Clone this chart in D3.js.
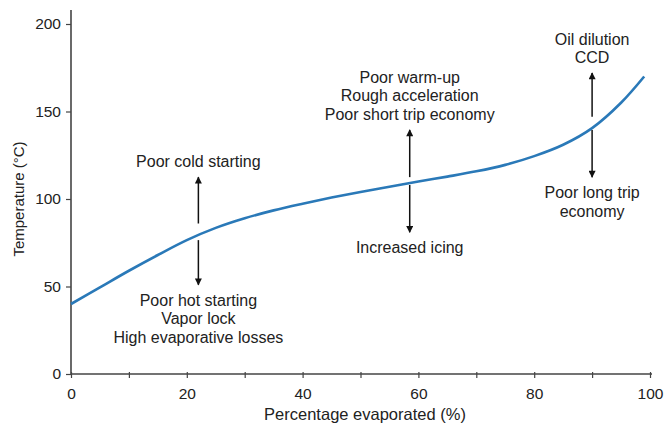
<!DOCTYPE html>
<html>
<head>
<meta charset="utf-8">
<script src="https://cdn.jsdelivr.net/npm/d3@7"></script>
<style>
  body { margin: 0; background: #fff; }
  svg text { font-family: "Liberation Sans", Arial, sans-serif; fill: #222; }
</style>
</head>
<body>
<div class="chart"></div>
<script>
// distillation curve: % evaporated vs temperature
var percent = [0, 5, 10, 15, 20, 25, 30, 35, 40, 45, 50, 55, 60, 65, 70, 75, 80, 85, 90, 95, 99];
var temperature = [40, 49.5, 59, 68, 76.5, 83.5, 89, 93.5, 97.3, 100.8, 104, 107, 110, 112.8, 115.8, 119.5, 124.5, 131, 140.5, 155, 170];

var xTicks = [0, 10, 20, 30, 40, 50, 60, 70, 80, 90, 100];
var yTicks = [0, 50, 100, 150, 200];

// annotations: x position (%), arrow from/to (°C), text lines above and below
var noteX = [22, 58.5, 90];
var upArrow = [[86, 112.5], [112.5, 139.5], [147, 172]];
var downArrow = [[76.5, 51], [108, 81], [139.5, 112.5]];
var upText = [
    ["Poor cold starting"],
    ["Poor warm-up", "Rough acceleration", "Poor short trip economy"],
    ["Oil dilution", "CCD"]
];
var downText = [
    ["Poor hot starting", "Vapor lock", "High evaporative losses"],
    ["Increased icing"],
    ["Poor long trip", "economy"]
];

var options = {
    width: 667,
    height: 430
};

var svg = d3.select(".chart").append("svg")
    .attr("width", options.width)
    .attr("height", options.height);

var xScale = d3.scaleLinear().domain([0, 100]).range([71, 650]);
var yScale = d3.scaleLinear().domain([0, 200]).range([374, 24]);

var defs = svg.append("defs");
defs.append("marker")
    .attr("id", "head")
    .attr("viewBox", "0 0 10 10")
    .attr("refX", 9)
    .attr("refY", 5)
    .attr("markerWidth", 8)
    .attr("markerHeight", 7)
    .attr("markerUnits", "userSpaceOnUse")
    .attr("orient", "auto")
    .append("path")
    .attr("d", "M0,0 L10,5 L0,10 Z")
    .attr("fill", "#111");

// axes
var xAxis = d3.axisBottom(xScale)
    .tickValues(xTicks)
    .tickSize(4)
    .tickPadding(10)
    .tickFormat(function(d) { return d % 20 === 0 ? d : ""; });

var yAxis = d3.axisLeft(yScale)
    .tickValues(yTicks)
    .tickSize(5)
    .tickPadding(5);

var gx = svg.append("g")
    .attr("transform", "translate(0," + yScale(0) + ")")
    .call(xAxis);
var gy = svg.append("g")
    .attr("transform", "translate(" + xScale(0) + ",0)")
    .call(yAxis);

[gx, gy].forEach(function(g) {
    g.select(".domain").remove();
    g.selectAll(".tick line").attr("stroke", "#444").attr("stroke-width", 1.2);
    g.selectAll(".tick text")
        .style("font-size", "15.5px")
        .style("font-family", "Liberation Sans, Arial, sans-serif")
        .attr("fill", "#222");
});
gx.selectAll(".tick line").attr("y1", -2);

// axis lines
svg.append("line")
    .attr("x1", xScale(0)).attr("x2", xScale(0))
    .attr("y1", yScale(0)).attr("y2", 10)
    .attr("stroke", "#444").attr("stroke-width", 1.6);
svg.append("line")
    .attr("x1", xScale(0)).attr("x2", xScale(100) + 2)
    .attr("y1", yScale(0)).attr("y2", yScale(0))
    .attr("stroke", "#444").attr("stroke-width", 1.6);

// axis titles
svg.append("text")
    .attr("x", 365)
    .attr("y", 420)
    .attr("text-anchor", "middle")
    .style("font-size", "16.5px")
    .text("Percentage evaporated (%)");

svg.append("text")
    .attr("transform", "translate(24," + yScale(100) + ") rotate(-90)")
    .attr("text-anchor", "middle")
    .style("font-size", "15px")
    .text("Temperature (°C)");

// curve
var points = percent.map(function(p, i) { return [p, temperature[i]]; });
var line = d3.line()
    .x(function(d) { return xScale(d[0]); })
    .y(function(d) { return yScale(d[1]); })
    .curve(d3.curveCatmullRom.alpha(0.5));

svg.append("path")
    .datum(points)
    .attr("d", line)
    .attr("fill", "none")
    .attr("stroke", "#2a79b8")
    .attr("stroke-width", 2.6);

// annotations
var lineGap = 18.5;
noteX.forEach(function(px, i) {
    var x = xScale(px);

    svg.append("line")
        .attr("x1", x).attr("x2", x)
        .attr("y1", yScale(upArrow[i][0])).attr("y2", yScale(upArrow[i][1]))
        .attr("stroke", "#111").attr("stroke-width", 1.5)
        .attr("marker-end", "url(#head)");

    svg.append("line")
        .attr("x1", x).attr("x2", x)
        .attr("y1", yScale(downArrow[i][0])).attr("y2", yScale(downArrow[i][1]))
        .attr("stroke", "#111").attr("stroke-width", 1.5)
        .attr("marker-end", "url(#head)");

    // text above: last line sits just over the arrow tip
    var topY = yScale(upArrow[i][1]) - 10;
    var nUp = upText[i].length;
    upText[i].forEach(function(t, j) {
        svg.append("text")
            .attr("x", x)
            .attr("y", topY - (nUp - 1 - j) * lineGap)
            .attr("text-anchor", "middle")
            .style("font-size", "16px")
            .text(t);
    });

    // text below: first line just under the arrow tip
    var botY = yScale(downArrow[i][1]) + 21;
    downText[i].forEach(function(t, j) {
        svg.append("text")
            .attr("x", x)
            .attr("y", botY + j * lineGap)
            .attr("text-anchor", "middle")
            .style("font-size", "16px")
            .text(t);
    });
});
</script>
</body>
</html>
